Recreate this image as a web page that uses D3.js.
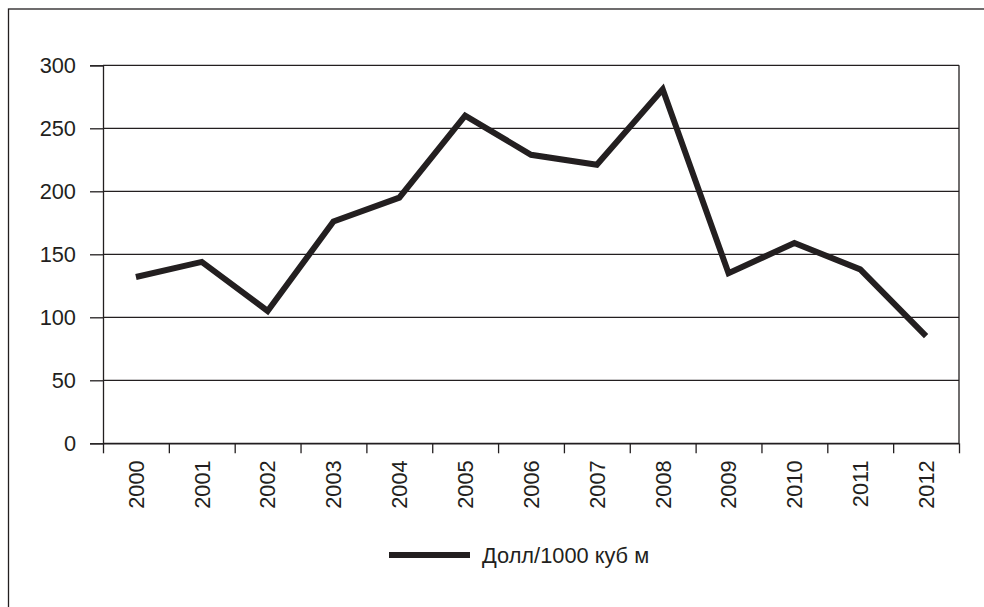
<!DOCTYPE html>
<html>
<head>
<meta charset="utf-8">
<script src="https://cdn.jsdelivr.net/npm/d3@7"></script>
<style>
  body { margin: 0; background: #fff; }
  text { font-family: "Liberation Sans", Arial, sans-serif; fill: #231f20; }
</style>
</head>
<body>
<div id="chart"></div>
<script>
var years = ["2000", "2001", "2002", "2003", "2004", "2005", "2006",
  "2007", "2008", "2009", "2010", "2011", "2012"];
var prices = [132, 144, 105, 176, 195, 260, 229, 221, 281, 135, 159, 138, 85];
var yTicks = [0, 50, 100, 150, 200, 250, 300];
var seriesName = "Долл/1000 куб м";

const width = 984;
const height = 607;
const margin = { top: 65.3, right: 25, bottom: 163.7, left: 103 };
const ink = "#231f20";
const fontSize = "21.8px";

const svg = d3
  .select("div#chart")
  .append("svg")
  .attr("width", width)
  .attr("height", height);

// outer frame, runs off the right and bottom edge
svg
  .append("rect")
  .attr("x", 8.5)
  .attr("y", 9)
  .attr("width", 1100)
  .attr("height", 800)
  .attr("fill", "none")
  .attr("stroke", ink)
  .attr("stroke-width", 1.3);

x = d3
  .scaleBand()
  .domain(years)
  .range([margin.left, width - margin.right]);

// edges of the categories, for the tick marks
xEdge = d3
  .scaleLinear()
  .domain([0, years.length])
  .range([margin.left, width - margin.right]);

y = d3
  .scaleLinear()
  .domain([0, 300])
  .range([height - margin.bottom, margin.top]);

// gridlines
svg
  .append("g")
  .attr("class", "grid")
  .selectAll("line")
  .data(yTicks)
  .join("line")
  .attr("x1", margin.left)
  .attr("x2", width - margin.right)
  .attr("y1", (d) => y(d))
  .attr("y2", (d) => y(d))
  .attr("stroke", ink)
  .attr("stroke-width", 1.3);

// right border of plot
svg
  .append("line")
  .attr("x1", width - margin.right)
  .attr("x2", width - margin.right)
  .attr("y1", y(300))
  .attr("y2", y(0))
  .attr("stroke", ink)
  .attr("stroke-width", 1.3);

function yAxis(g) {
  g.attr("transform", `translate(${margin.left}, 0)`)
    .call(d3.axisLeft(y).tickValues(yTicks).tickSize(13).tickPadding(14))
    .call((g) => g.selectAll("path, line").attr("stroke", ink).attr("stroke-width", 1.3))
    .call((g) =>
      g.selectAll("text")
        .attr("fill", ink)
        .style("font-size", fontSize)
        .style("font-family", "'Liberation Sans', Arial, sans-serif")
    );
}

function xTicks(g) {
  g.attr("transform", `translate(0, ${y(0)})`)
    .call(
      d3.axisBottom(xEdge)
        .tickValues(d3.range(years.length + 1))
        .tickFormat("")
        .tickSize(10)
        .tickSizeOuter(0)
    )
    .call((g) => g.selectAll("path, line").attr("stroke", ink).attr("stroke-width", 1.3));
}

function xLabels(g) {
  g.attr("transform", `translate(0, ${y(0)})`)
    .call(d3.axisBottom(x).tickSize(0))
    .call((g) => g.select(".domain").remove())
    .call((g) =>
      g.selectAll("text")
        .attr("transform", "rotate(-90)")
        .attr("text-anchor", "end")
        .attr("x", -17)
        .attr("y", 0)
        .attr("dy", "0.36em")
        .attr("fill", ink)
        .style("font-size", fontSize)
        .style("font-family", "'Liberation Sans', Arial, sans-serif")
    );
}

svg.append("g").attr("class", "yAxis").call(yAxis);
svg.append("g").attr("class", "xTicks").call(xTicks);
svg.append("g").attr("class", "xLabels").call(xLabels);

line = d3
  .line()
  .x((d, i) => x(years[i]) + x.bandwidth() / 2)
  .y((d) => y(d));

svg
  .append("path")
  .datum(prices)
  .attr("fill", "none")
  .attr("stroke", ink)
  .attr("stroke-width", 6)
  .attr("stroke-linejoin", "miter")
  .attr("d", line);

// legend
const legend = svg.append("g").attr("transform", "translate(389, 555)");
legend
  .append("line")
  .attr("x1", 0)
  .attr("x2", 81)
  .attr("stroke", ink)
  .attr("stroke-width", 6);
legend
  .append("text")
  .attr("x", 93)
  .attr("y", 0)
  .attr("dy", "0.36em")
  .style("font-size", fontSize)
  .text(seriesName);
</script>
</body>
</html>
